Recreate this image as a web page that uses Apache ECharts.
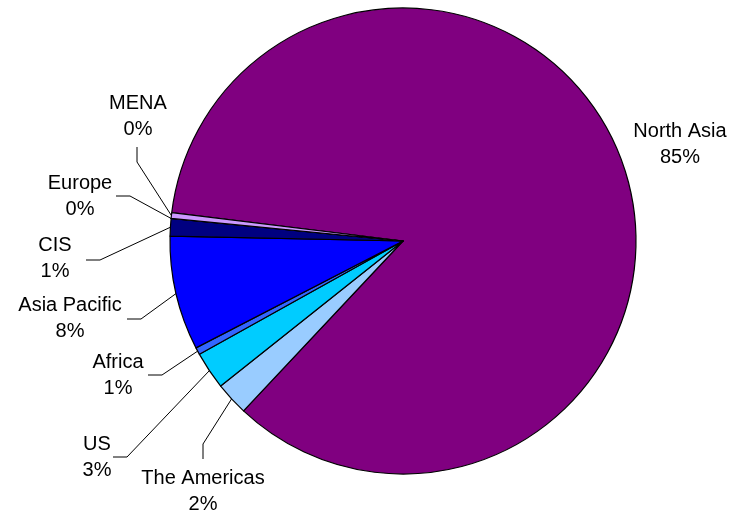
<!DOCTYPE html>
<html>
<head>
<meta charset="utf-8">
<script src="https://cdn.jsdelivr.net/npm/echarts@6/dist/echarts.min.js"></script>
<style>
  html, body { margin: 0; padding: 0; background: #fff; }
  #chart { width: 732px; height: 512px; }
</style>
</head>
<body>
<div id="chart"></div>
<script>
// regions, clockwise from the top-left edge of the big slice
var regions = ['North Asia', 'The Americas', 'US', 'Africa', 'Asia Pacific', 'CIS', 'Europe', 'MENA'];
var shares = [84.8, 2.3, 2.6, 0.5, 7.9, 1.2, 0, 0.4];
var colors = ['#800080', '#99CCFF', '#00CCFF', '#3366FF', '#0000FF', '#000080', '#9999FF', '#CC99FF'];

// label block centres and leader line (elbow, end) per region
var labelPos = [
  { x: 680, y: 144, line: null },
  { x: 203, y: 491, line: [[203, 444], [203, 459]] },
  { x: 97, y: 457, line: [[127, 457], [113, 457]] },
  { x: 118, y: 375, line: [[162, 375], [148, 375]] },
  { x: 70, y: 318, line: [[141, 319], [127, 319]] },
  { x: 55, y: 258, line: [[100, 260], [86, 260]] },
  { x: 80, y: 196, line: [[130, 196], [116, 196]] },
  { x: 138, y: 116, line: [[137, 162], [137, 147]] }
];

var chart = echarts.init(document.getElementById('chart'));

chart.setOption({
  animation: false,
  series: [
    {
      type: 'pie',
      center: [403, 241],
      radius: 233,
      startAngle: 173,
      clockwise: true,
      avoidLabelOverlap: false,
      data: regions.map(function (name, i) {
        return {
          name: name,
          value: shares[i],
          itemStyle: { color: colors[i] },
          labelLine: { show: labelPos[i].line !== null }
        };
      }),
      itemStyle: {
        borderColor: '#000',
        borderWidth: 1.2
      },
      label: {
        show: true,
        position: 'outside',
        formatter: function (p) {
          return p.name + '\n' + Math.round(p.percent) + '%';
        },
        fontFamily: 'Liberation Sans, Arial, sans-serif',
        fontSize: 20,
        lineHeight: 26,
        color: '#000',
        align: 'center'
      },
      labelLine: {
        show: true,
        length: 10,
        length2: 10,
        lineStyle: { color: '#000', width: 1 }
      },
      labelLayout: function (params) {
        var lp = labelPos[params.dataIndex];
        var out = {
          x: lp.x,
          y: lp.y,
          align: 'center',
          verticalAlign: 'middle'
        };
        if (lp.line && params.labelLinePoints) {
          out.labelLinePoints = [params.labelLinePoints[0], lp.line[0], lp.line[1]];
        }
        return out;
      }
    }
  ]
});
</script>
</body>
</html>
